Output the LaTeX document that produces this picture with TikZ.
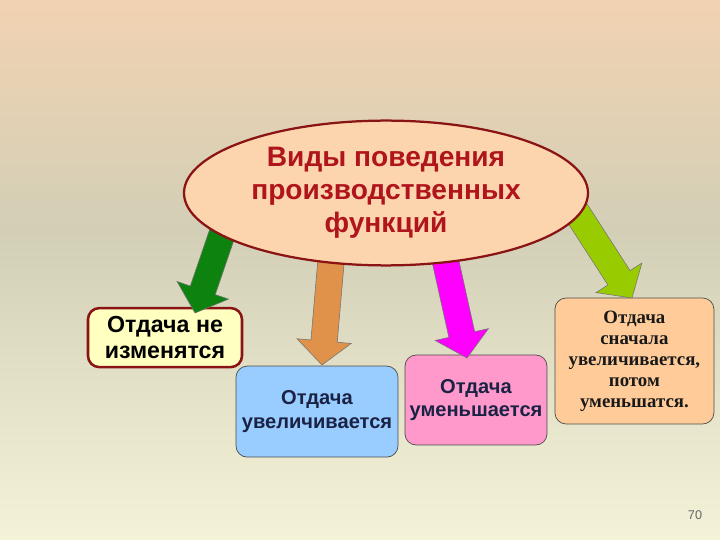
\documentclass[tikz,border=0pt]{standalone}
\usepackage{fontspec}
\setmainfont{Liberation Sans}
\newfontfamily\timesfont{Liberation Serif}
\usepackage{tikz}
\usetikzlibrary{calc,shapes.geometric}
\definecolor{bgtop}{HTML}{F2D2B2}
\definecolor{bgmid}{HTML}{D2CFB6}
\definecolor{bgbot}{HTML}{F4F3D8}
\definecolor{ovalfill}{HTML}{FCD4AE}
\definecolor{darkred}{HTML}{8A1414}
\definecolor{titlered}{HTML}{B0141C}
\definecolor{yellowbox}{HTML}{FFFFC0}
\definecolor{bluebox}{HTML}{99CCFF}
\definecolor{pinkbox}{HTML}{FF99CC}
\definecolor{peachbox}{HTML}{FFCC99}
\definecolor{navy}{HTML}{1A2344}
\definecolor{agreen}{HTML}{0E820E}
\definecolor{aorange}{HTML}{E0914A}
\definecolor{amagenta}{HTML}{FF00FF}
\definecolor{alime}{HTML}{99CC00}
\tikzset{
  oval/.style={ellipse, fill=ovalfill, draw=darkred, line width=1.6pt, minimum width=10.1cm, minimum height=3.62cm, inner sep=0pt, align=center, text=titlered, font=\bfseries\fontsize{20}{23.5}\selectfont},
  box/.style={rounded corners=8pt, draw=black!70, line width=0.5pt, align=center, inner sep=0pt, font=\bfseries\fontsize{14.3}{16.5}\selectfont},
  arrowline/.style={draw=black!55, line width=0.4pt},
  pagenum/.style={text=black!60, font=\fontsize{9}{10}\selectfont},
}
% block arrow from #1 to tip #2, filled with #3
\newcommand{\fatarrow}[3]{%
  \coordinate (h) at ($(#2)!0.6cm!(#1)$);
  \draw[arrowline, fill=#3] ($(#1)!0.33cm!90:(#2)$) -- ($(h)!0.33cm!90:(#2)$)
    -- ($(h)!0.68cm!90:(#2)$) -- (#2) -- ($(h)!0.68cm!-90:(#2)$)
    -- ($(h)!0.33cm!-90:(#2)$) -- ($(#1)!0.33cm!-90:(#2)$) -- cycle;
}

\begin{document}
\begin{tikzpicture}
  \useasboundingbox (0,0) rectangle (18,13.5);
  \shade[top color=bgtop, bottom color=bgmid] (0,7.7) rectangle (18,13.5);
  \shade[top color=bgmid, bottom color=bgbot] (0,0) rectangle (18,7.75);

  \node[box, fill=yellowbox, draw=darkred, line width=1.8pt, minimum width=3.85cm, minimum height=1.475cm, font=\bfseries\fontsize{16.5}{19}\selectfont] (same) at (4.125,5.06) {Отдача не\\изменятся};
  \node[box, fill=bluebox, text=navy, minimum width=4.05cm, minimum height=2.275cm] (up) at (7.925,3.21) {Отдача\\увеличивается};
  \node[box, fill=pinkbox, text=navy, minimum width=3.55cm, minimum height=2.25cm] (down) at (11.9,3.5) {Отдача\\уменьшается};
  \node[box, fill=peachbox, text=black!90, minimum width=3.975cm, minimum height=3.15cm, font=\timesfont\bfseries\fontsize{13.4}{15}\selectfont] (updown) at (15.86,4.475) {Отдача\\сначала\\увеличивается,\\потом\\уменьшатся.};

  \coordinate (g0) at (5.8,8.375);
  \coordinate (g1) at (4.875,5.675);
  \coordinate (o0) at (8.3,7.25);
  \coordinate (o1) at (8.05,4.375);
  \coordinate (m0) at (11.075,7.25);
  \coordinate (m1) at (11.675,4.55);
  \coordinate (l0) at (14.3,8.375);
  \coordinate (l1) at (15.8,6.05);

  \fatarrow{g0}{g1}{agreen}
  \fatarrow{o0}{o1}{aorange}
  \fatarrow{m0}{m1}{amagenta}
  \fatarrow{l0}{l1}{alime}

  \node[oval] (kinds) at (9.65,8.675) {Виды поведения\\производственных\\функций};

  \node[pagenum] (page) at (17.375,0.625) {70};
\end{tikzpicture}
\end{document}
